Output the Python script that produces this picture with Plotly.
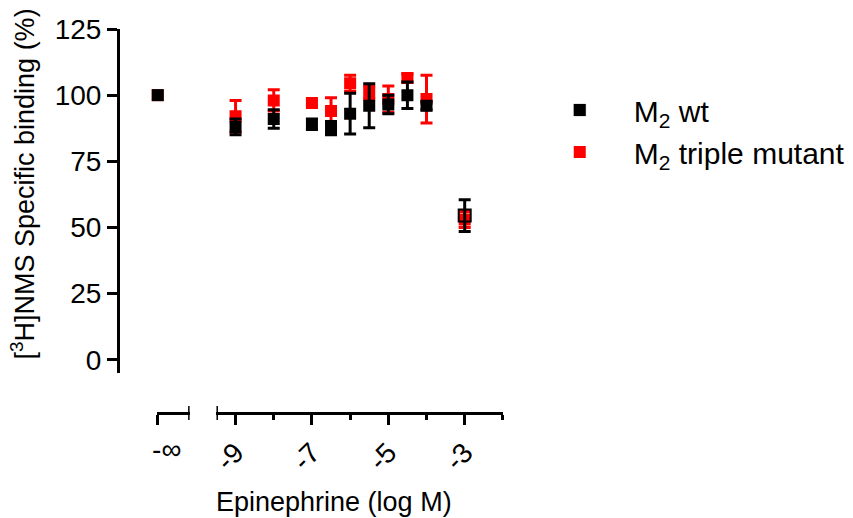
import plotly.graph_objects as go

# Epinephrine concentrations (log M) and mean specific binding (%) with SEM
log_conc = [-9, -8, -7, -6.5, -6, -5.5, -5, -4.5, -4, -3]
wt_mean = [88, 91, 89, 87.5, 93, 96, 96.5, 100, 96, 54.5]
wt_sem = [3, 3.5, 2, 2.5, 7.7, 8.3, 3.5, 5, 1.5, 6]
mut_mean = [92, 98, 97, 94, 104.5, 101, 98.5, 106.5, 98.5, 53]
mut_sem = [6, 4, 1, 5, 3, 2.5, 5, 1.5, 9, 3]

# Basal (no agonist, "-inf") values
basal_pos = [0]
wt_basal = [100]
mut_basal = [100]

y_ticks = [0, 25, 50, 75, 100, 125]
x_ticks = [-9, -7, -5, -3]
x_minor = [-8, -6, -4, -2]

FONT = "Arial, Liberation Sans, sans-serif"
FS = 28
W, H = 853, 518
L, R, T, B = 118, 3, 29, 105
PW = W - L - R
PH = H - T - B


def px_x(p):
    return (p - L) / PW


def px_y(p):
    return (H - B - p) / PH


fig = go.Figure()

err_style = dict(type="data", thickness=3, width=6)
n = len(log_conc)

# mutant first so wild type sits on top
fig.add_trace(go.Scatter(
    x=log_conc, y=mut_mean, mode="markers", name="M<sub>2</sub> triple mutant",
    marker=dict(symbol="square", size=12, color="#ff0000", line=dict(width=0)),
    error_y=dict(array=mut_sem, color="#ff0000", **err_style),
    xaxis="x", yaxis="y", legendrank=2, legendgroup="mut",
))
fig.add_trace(go.Scatter(
    x=log_conc, y=wt_mean, mode="markers", name="M<sub>2</sub> wt",
    marker=dict(symbol=["square"] * (n - 1) + ["square-open"],
                size=12, color="#000000",
                line=dict(width=[0] * (n - 1) + [2], color="#000000")),
    error_y=dict(array=wt_sem, color="#000000", **err_style),
    xaxis="x", yaxis="y", legendrank=1, legendgroup="wt",
))
fig.add_trace(go.Scatter(
    x=basal_pos, y=mut_basal, mode="markers", showlegend=False, cliponaxis=False,
    marker=dict(symbol="square", size=12, color="#ff0000"),
    xaxis="x2", yaxis="y",
))
fig.add_trace(go.Scatter(
    x=basal_pos, y=wt_basal, mode="markers", showlegend=False, cliponaxis=False,
    marker=dict(symbol="square", size=12, color="#000000"),
    xaxis="x2", yaxis="y",
))

axis_common = dict(
    showline=True, linecolor="black", linewidth=3,
    ticks="outside", ticklen=10, tickwidth=3, tickcolor="black",
    showgrid=False, zeroline=False,
    tickfont=dict(family=FONT, size=FS, color="black"),
)

fig.update_layout(
    width=W, height=H,
    margin=dict(l=L, r=R, t=T, b=B, pad=0),
    paper_bgcolor="white", plot_bgcolor="white",
    xaxis=dict(
        domain=[px_x(217), px_x(505)], range=[-9.5, -2],
        anchor="free", position=0,
        tickvals=x_ticks, ticktext=[str(v) for v in x_ticks], tickangle=-45,
        minor=dict(tickvals=x_minor, ticks="outside", ticklen=5, tickwidth=3,
                   tickcolor="black", showgrid=False),
        **axis_common,
    ),
    xaxis2=dict(
        domain=[px_x(157), px_x(190)], range=[-0.03, 1],
        anchor="free", position=0,
        tickvals=basal_pos, ticktext=["-∞"], tickangle=0, ticklabelshift=9,
        **axis_common,
    ),
    yaxis=dict(
        domain=[px_y(373), 1], range=[-5, 125],
        anchor="free", position=0,
        tickvals=y_ticks,
        **axis_common,
    ),
    legend=dict(
        x=px_x(528), y=px_y(84), xanchor="left", yanchor="top",
        font=dict(family=FONT, size=30, color="black"),
        itemwidth=98, tracegroupgap=0, bgcolor="rgba(0,0,0,0)",
        traceorder="grouped",
    ),
    showlegend=True,
)

# end caps of the two x-axis segments
for xref, xv in (("x", -9.5), ("x2", 1)):
    fig.add_shape(type="line", xref=xref, yref="paper", x0=xv, x1=xv,
                  y0=px_y(420), y1=px_y(406), line=dict(color="black", width=3))

fig.add_annotation(
    text="Epinephrine (log M)", xref="paper", yref="paper",
    x=px_x(335), y=px_y(502), xanchor="center", yanchor="middle",
    showarrow=False, font=dict(family=FONT, size=27, color="black"),
)
fig.add_annotation(
    text="[<sup>3</sup>H]NMS Specific binding (%)", xref="paper", yref="paper",
    x=px_x(22), y=px_y(184), xanchor="center", yanchor="middle",
    textangle=-90, showarrow=False,
    font=dict(family=FONT, size=27, color="black"),
)

fig.write_html("out.html")
